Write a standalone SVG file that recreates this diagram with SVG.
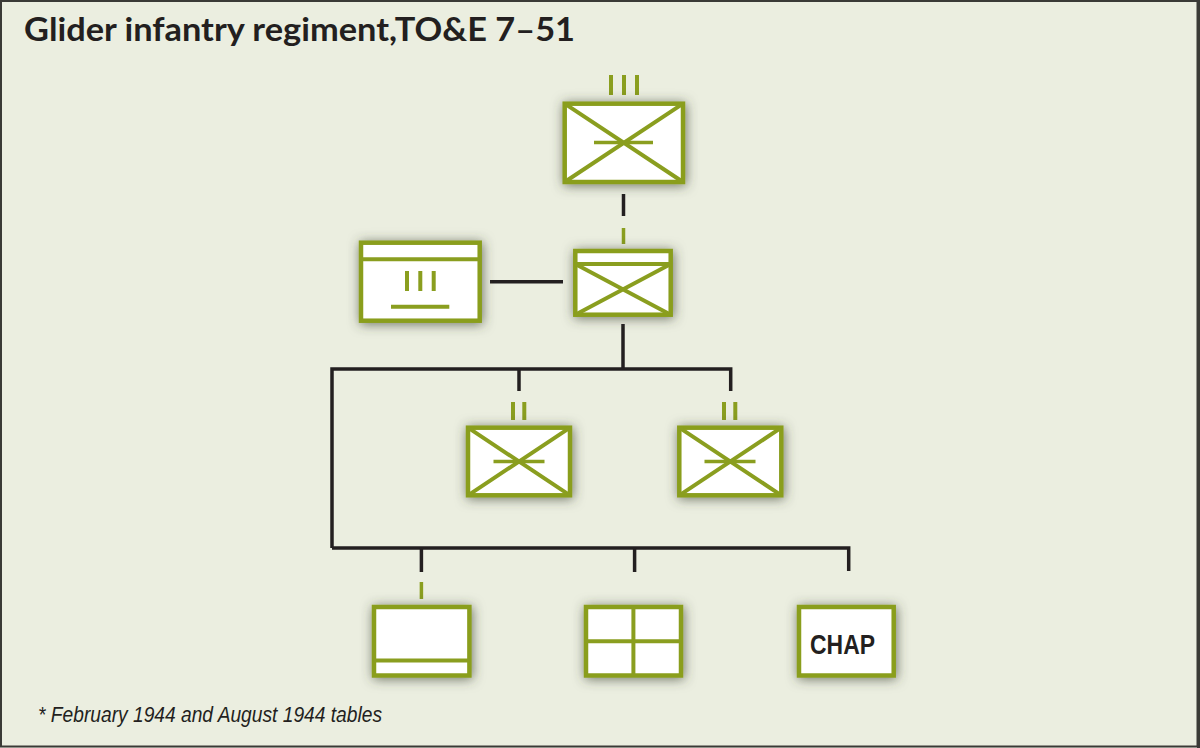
<svg xmlns="http://www.w3.org/2000/svg" width="1200" height="748" viewBox="0 0 1200 748">
  <style>
    .box{fill:#ffffff;stroke:#8a9e1f;stroke-width:4.5;filter:url(#sh)}
    .gl{stroke:#8a9e1f;stroke-width:4;fill:none}
    .gm{stroke:#8a9e1f;stroke-width:3.5;fill:none}
    .bl{stroke:#231f20;stroke-width:3.5;fill:none}
    .title{font-family:Lato,"Open Sans","Liberation Sans",sans-serif;font-weight:700;font-size:33px;fill:#231f20}
    .note{font-family:"Liberation Sans Narrow","Liberation Sans",sans-serif;font-style:italic;font-size:21.5px;fill:#231f20}
    .chap{font-family:"Liberation Sans Narrow","Liberation Sans",sans-serif;font-weight:700;font-size:27px;fill:#231f20}
  </style>
  <defs>
    <filter id="sh" x="-30%" y="-30%" width="160%" height="160%">
      <feDropShadow dx="1" dy="1.5" stdDeviation="6" flood-color="#3a4230" flood-opacity="0.7"/>
    </filter>
  </defs>
  <rect x="0" y="0" width="1200" height="748" fill="#ebeee0"/>
  <rect x="1" y="1" width="1196.5" height="745.5" fill="none" stroke="#3a3a36" stroke-width="2"/>
  <line x1="1198.5" y1="0" x2="1198.5" y2="748" stroke="#3a3a36" stroke-width="3"/>

  <text class="title" x="24" y="41" textLength="551" lengthAdjust="spacingAndGlyphs">Glider infantry regiment,TO&amp;E 7–51</text>

  <g id="connectors">
    <line class="bl" x1="623.5" y1="194" x2="623.5" y2="216"/>
    <line class="gm" x1="623.5" y1="228" x2="623.5" y2="244"/>
    <line class="bl" x1="490" y1="281.7" x2="563" y2="281.7"/>
    <line class="bl" x1="623" y1="324" x2="623" y2="369"/>
    <path class="bl" d="M332 548 V369 H730.7 V391"/>
    <line class="bl" x1="519" y1="369" x2="519" y2="391"/>
    <path class="bl" d="M332 548 H848.7 V571"/>
    <line class="bl" x1="421.4" y1="548" x2="421.4" y2="572"/>
    <line class="bl" x1="634.6" y1="548" x2="634.6" y2="572"/>
    <line class="gm" x1="421.4" y1="582" x2="421.4" y2="599"/>
  </g>

  <g id="regiment">
    <line class="gl" x1="611" y1="75" x2="611" y2="95"/>
    <line class="gl" x1="624" y1="75" x2="624" y2="95"/>
    <line class="gl" x1="637" y1="75" x2="637" y2="95"/>
    <rect class="box" x="564.7" y="103.7" width="118.3" height="78.3"/>
    <path class="gl" d="M564.7 103.7 L683 182 M683 103.7 L564.7 182"/>
    <line class="gm" x1="594" y1="142.5" x2="653" y2="142.5"/>
  </g>

  <g id="regimental-hq">
    <rect class="box" x="575.3" y="251" width="95.4" height="63.7"/>
    <line class="gl" x1="575.3" y1="264" x2="670.7" y2="264"/>
    <path class="gl" d="M575.3 264 L670.7 314.7 M670.7 264 L575.3 314.7"/>
  </g>

  <g id="service-support">
    <rect class="box" x="361" y="242.7" width="118.7" height="78"/>
    <line class="gl" x1="361" y1="259.2" x2="479.7" y2="259.2"/>
    <line class="gl" x1="407" y1="271" x2="407" y2="291"/>
    <line class="gl" x1="420.3" y1="271" x2="420.3" y2="291"/>
    <line class="gl" x1="433.7" y1="271" x2="433.7" y2="291"/>
    <line class="gl" x1="391" y1="306.7" x2="449.3" y2="306.7"/>
  </g>

  <g id="battalion-1">
    <line class="gl" x1="513" y1="402" x2="513" y2="420"/>
    <line class="gl" x1="524.3" y1="402" x2="524.3" y2="420"/>
    <rect class="box" x="468" y="427.7" width="102" height="67.6"/>
    <path class="gl" d="M468 427.7 L570 495.3 M570 427.7 L468 495.3"/>
    <line class="gm" x1="493.5" y1="461.5" x2="544.5" y2="461.5"/>
  </g>

  <g id="battalion-2">
    <line class="gl" x1="724" y1="402" x2="724" y2="420"/>
    <line class="gl" x1="735.3" y1="402" x2="735.3" y2="420"/>
    <rect class="box" x="679.3" y="427.7" width="102" height="67.6"/>
    <path class="gl" d="M679.3 427.7 L781.3 495.3 M781.3 427.7 L679.3 495.3"/>
    <line class="gm" x1="704.5" y1="461.5" x2="755.5" y2="461.5"/>
  </g>

  <g id="hq-company">
    <rect class="box" x="374" y="607" width="95.4" height="68.5"/>
    <line class="gl" x1="374" y1="660.5" x2="469.4" y2="660.5"/>
  </g>

  <g id="service-company">
    <rect class="box" x="586" y="607" width="95" height="68.5"/>
    <line class="gl" x1="633.4" y1="607" x2="633.4" y2="675.5"/>
    <line class="gl" x1="586" y1="641.3" x2="681" y2="641.3"/>
  </g>

  <g id="chaplain">
    <rect class="box" x="799" y="607" width="94.7" height="68.5"/>
    <text class="chap" x="810" y="653.5" textLength="65" lengthAdjust="spacingAndGlyphs">CHAP</text>
  </g>

  <text class="note" x="38" y="722.3" textLength="344" lengthAdjust="spacingAndGlyphs">* February 1944 and August 1944 tables</text>
</svg>
